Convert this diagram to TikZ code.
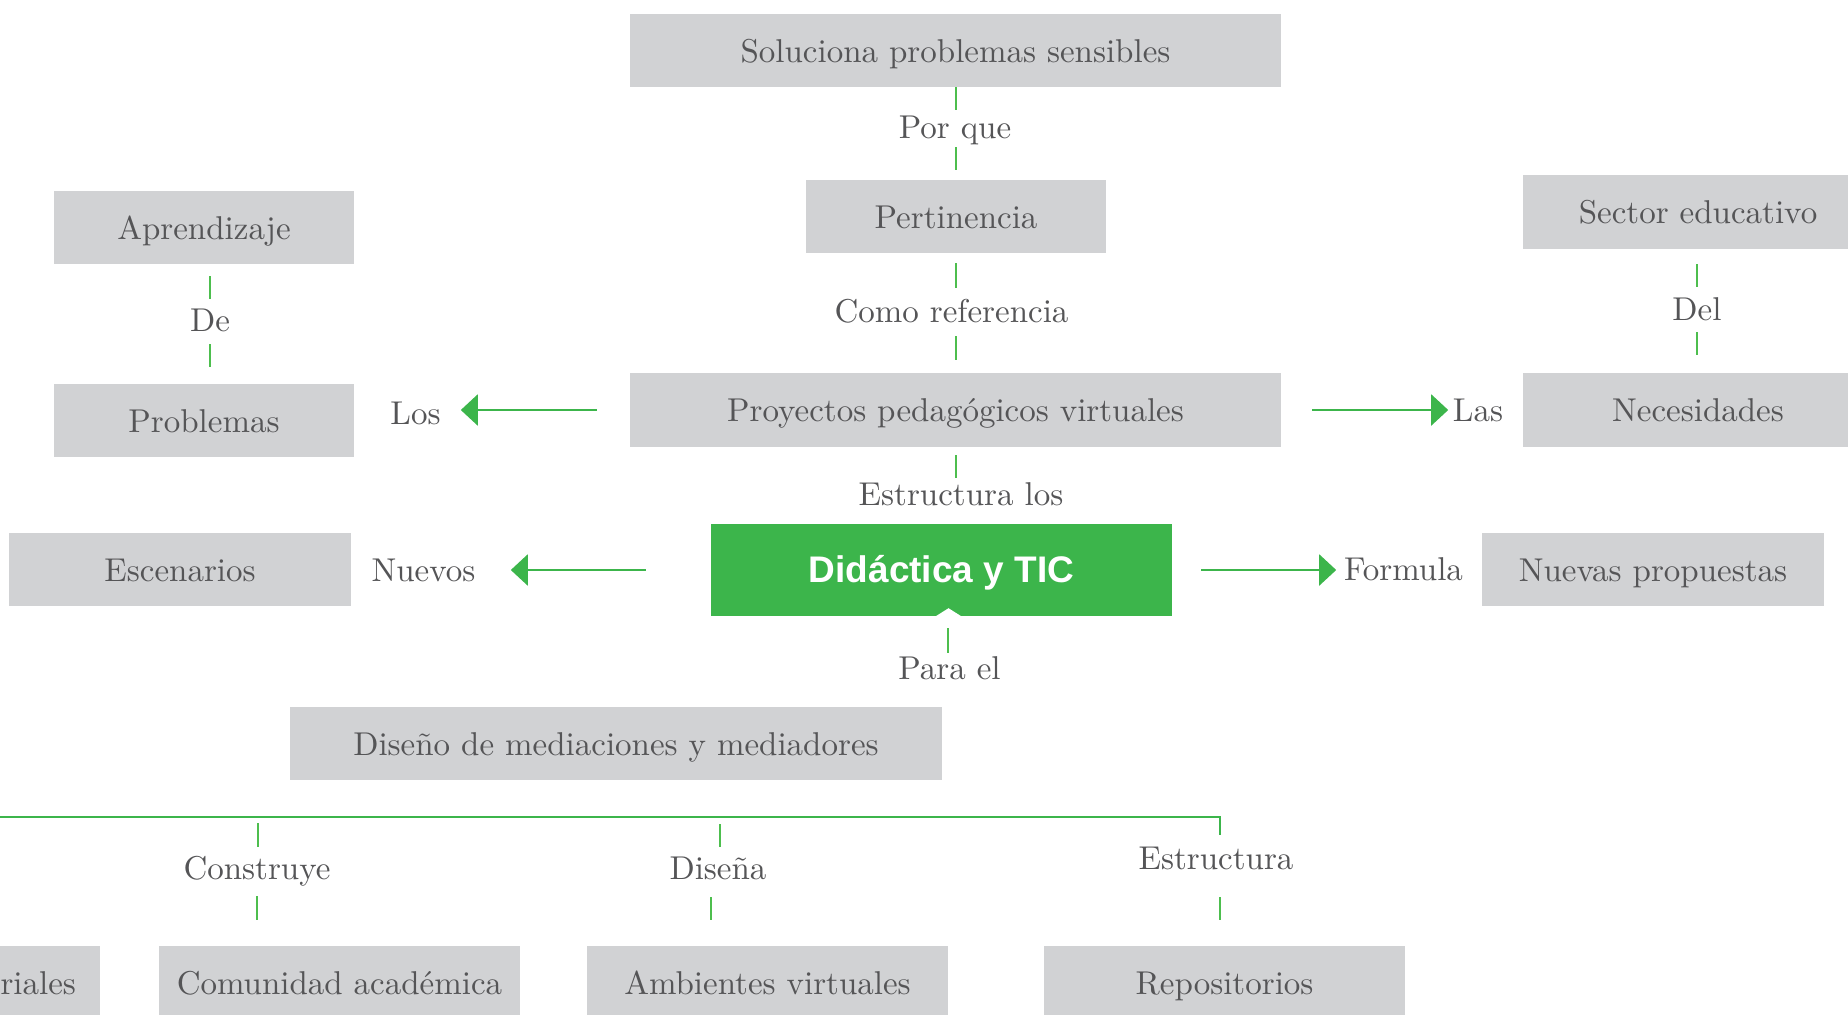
\documentclass[tikz,border=0pt]{standalone}
\usepackage{fontspec}
\setmainfont{lmroman10-regular.otf}
\newfontfamily\headfont{Liberation Sans}
\usetikzlibrary{arrows.meta,calc}

\definecolor{boxgray}{HTML}{D1D2D4}
\definecolor{txtgray}{HTML}{555557}
\definecolor{mapgreen}{HTML}{3CB54B}
\definecolor{tickgreen}{HTML}{4DBE4E}

\tikzset{
  box/.style={fill=boxgray, text=txtgray, inner sep=0pt, minimum height=73pt,
    text height=27pt, text depth=4pt, font=\fontsize{33}{40}\selectfont},
  lbl/.style={text=txtgray, inner sep=0pt, anchor=base, font=\fontsize{33}{40}\selectfont},
  tick/.style={draw=tickgreen, line width=2pt},
  arr/.style={draw=mapgreen, line width=2.3pt, -{Triangle[length=17pt,width=31pt]}},
  bus/.style={draw=mapgreen, line width=2.3pt},
  core/.style={fill=mapgreen, text=white, inner sep=0pt, minimum width=461pt,
    minimum height=92pt, text height=27pt, text depth=3pt,
    font=\headfont\bfseries\fontsize{37}{44}\selectfont},
}

\begin{document}
\begin{tikzpicture}[x=1pt,y=-1pt]
\useasboundingbox (0,0) rectangle (1848,1015);
\clip (0,0) rectangle (1848,1015);

% concept boxes
\node[box, minimum width=651pt] (sol)  at (955.5,50.5) {Soluciona problemas sensibles};
\node[box, minimum width=300pt] (pert) at (956,216.5)  {Pertinencia};
\node[box, minimum width=300pt] (apr)  at (204,227.5)  {Aprendizaje};
\node[box, minimum width=300pt] (prob) at (204,420.5)  {Problemas};
\node[box, minimum width=651pt, minimum height=74pt] (proy) at (955.5,410) {Proyectos pedagógicos virtuales};
\node[box, minimum width=350pt, minimum height=74pt] (sect) at (1698,212) {Sector educativo};
\node[box, minimum width=350pt, minimum height=74pt] (nec)  at (1698,410) {Necesidades};
\node[box, minimum width=342pt] (esc)  at (180,569.5)  {Escenarios};
\node[core] (did) at (941.5,570) {Didáctica y TIC};
\node[box, minimum width=342pt] (nue)  at (1653,569.5) {Nuevas propuestas};
\node[box, minimum width=652pt] (dis)  at (616,743.5)  {Diseño de mediaciones y mediadores};
\node[box, text width=311pt, inner xsep=24pt, align=right] (mat) at (-79.5,982.5) {riales};
\node[box, minimum width=361pt] (com)  at (339.5,982.5) {Comunidad académica};
\node[box, minimum width=361pt] (amb)  at (767.5,982.5) {Ambientes virtuales};
\node[box, minimum width=361pt] (rep)  at (1224.5,982.5) {Repositorios};

% notch under the central node
\fill[white] ($(did.south)+(-6.5,0.5)$) -- ($(did.south)+(7,-8)$) -- ($(did.south)+(20.5,0.5)$) -- cycle;

% linking words
\node[lbl] (porque)  at (955,138)    {Por que};
\node[lbl] (comoref) at (951.5,322)  {Como referencia};
\node[lbl] (de)      at (210,331)    {De};
\node[lbl] (del)     at (1697,320)   {Del};
\node[lbl] (los)     at (415.5,424)  {Los};
\node[lbl] (las)     at (1478,421)   {Las};
\node[lbl] (estlos)  at (961,505)    {Estructura los};
\node[lbl] (nuevos)  at (423.5,581)  {Nuevos};
\node[lbl] (formula) at (1403.5,580) {Formula};
\node[lbl] (parael)  at (949.5,679)  {Para el};
\node[lbl] (cons)    at (257,879)    {Construye};
\node[lbl] (dsn)     at (718,879)    {Diseña};
\node[lbl] (est)     at (1216,869)   {Estructura};

% vertical links, broken by their linking words
\draw[tick] (sol.south) -- ++(0,23);
\draw[tick] ($(pert.north)+(0,-10)$) -- ++(0,-23);
\draw[tick] ($(pert.south)+(0,10)$) -- ++(0,25);
\draw[tick] ($(proy.north)+(0,-13)$) -- ++(0,-24);
\draw[tick] ($(proy.south)+(0,8)$) -- ++(0,23);
\draw[tick] ($(did.south)+(6.5,12)$) -- ++(0,25);
\draw[tick] ($(apr.south)+(6,12)$) -- ++(0,23);
\draw[tick] ($(prob.north)+(6,-17)$) -- ++(0,-23);
\draw[tick] ($(sect.south)+(-1,15)$) -- ++(0,23);
\draw[tick] ($(nec.north)+(-1,-18)$) -- ++(0,-23);

% horizontal arrows
\draw[arr] ($(proy.west)+(-33,0)$) -- ($(proy.west)+(-169,0)$);
\draw[arr] ($(proy.east)+(31,0)$) -- ($(proy.east)+(167,0)$);
\draw[arr] ($(did.west)+(-65,0)$) -- ($(did.west)+(-200,0)$);
\draw[arr] ($(did.east)+(29,0)$) -- ($(did.east)+(164,0)$);

% branch line over the bottom row
\coordinate (busL) at (-5,817);
\coordinate (busR) at (1220,817);
\draw[bus] (busL) -- (busR) -- ++(0,18);
\draw[tick] ($(cons.base)+(1,-56)$) -- ++(0,24);
\draw[tick] ($(cons.base)+(0,17)$) -- ++(0,24);
\draw[tick] ($(dsn.base)+(2,-55)$) -- ++(0,23);
\draw[tick] ($(dsn.base)+(-7,18)$) -- ++(0,23);
\draw[tick] ($(est.base)+(4,28)$) -- ++(0,23);
\end{tikzpicture}
\end{document}
